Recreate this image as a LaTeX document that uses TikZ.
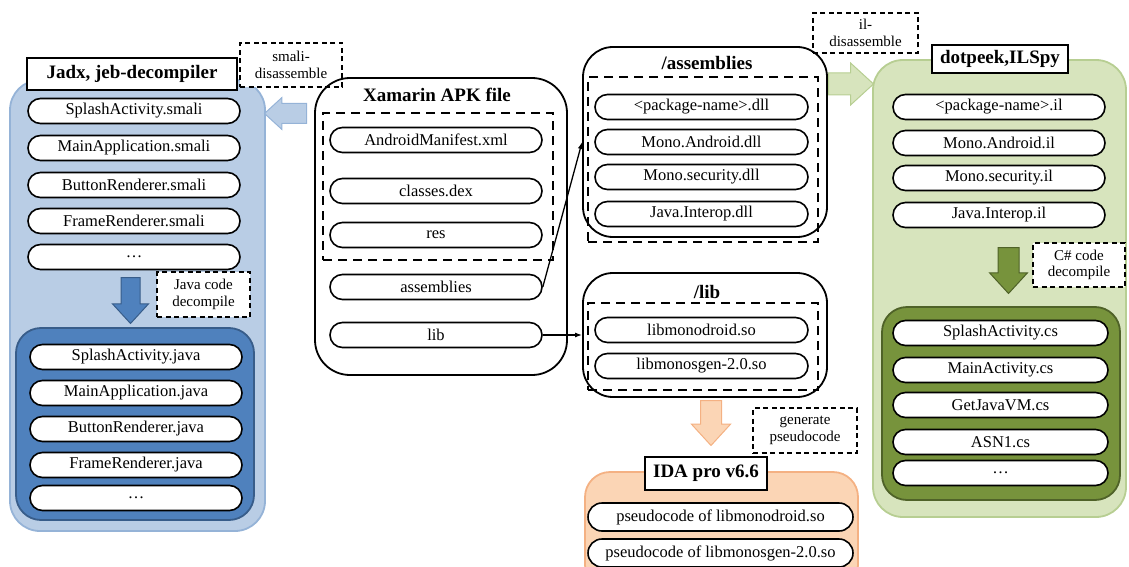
\documentclass[tikz,border=0pt]{standalone}
\usepackage{fontspec}
\setmainfont{Liberation Serif}
\usetikzlibrary{shapes.arrows,arrows.meta}

\definecolor{lblue}{HTML}{B9CDE5}
\definecolor{lbluedraw}{HTML}{95B3D7}
\definecolor{dblue}{HTML}{4F81BD}
\definecolor{dbluedraw}{HTML}{385D8A}
\definecolor{lgreen}{HTML}{D7E4BD}
\definecolor{lgreendraw}{HTML}{B7CE92}
\definecolor{dgreen}{HTML}{77933C}
\definecolor{dgreendraw}{HTML}{4F6228}
\definecolor{lorange}{HTML}{FBD5B5}
\definecolor{lorangedraw}{HTML}{F4B183}

\tikzset{
  pill/.style={draw, fill=white, line width=1.6pt, rounded corners=12.5pt,
    minimum width=212pt, minimum height=25pt, inner sep=0pt,
    font=\fontsize{16.5}{19}\selectfont},
  panel/.style={draw, line width=1.8pt, rounded corners=30pt, inner sep=0pt},
  dashbox/.style={draw, line width=2.4pt, dash pattern=on 9pt off 6pt, inner sep=0pt},
  head/.style={inner sep=1pt, font=\fontsize{19}{22}\bfseries\selectfont},
  toolbox/.style={draw, fill=white, line width=1.3pt, inner sep=0pt,
    font=\fontsize{19}{22}\bfseries\selectfont},
  note/.style={draw, fill=white, line width=1.2pt, dash pattern=on 5pt off 3.5pt,
    inner sep=0pt, align=center, font=\fontsize{15}{16.5}\selectfont},
  blockarrow/.style={single arrow, line width=1pt, single arrow tip angle=85, anchor=tail},
  link/.style={line width=1.3pt, -{Latex[length=7pt,width=5pt]}}
}

\begin{document}
\begin{tikzpicture}[x=1pt,y=1pt,yscale=-1,xscale=1]
\useasboundingbox (0,0) rectangle (1129,567);
\clip (0,0) rectangle (1129,567);

% background panels
\node[panel, fill=lblue, draw=lbluedraw, minimum width=255pt, minimum height=451pt] (jadxpanel) at (137.5,305.5) {};
\node[panel, fill=dblue, draw=dbluedraw, rounded corners=25pt, minimum width=238pt, minimum height=192pt] (javapanel) at (135,424) {};
\node[panel, fill=lgreen, draw=lgreendraw, minimum width=253pt, minimum height=457pt] (ilpanel) at (999.5,288.5) {};
\node[panel, fill=dgreen, draw=dgreendraw, rounded corners=25pt, minimum width=238pt, minimum height=193pt] (cspanel) at (1001,403.5) {};
\node[panel, fill=lorange, draw=lorangedraw, rounded corners=25pt, minimum width=273pt, minimum height=118pt] (idapanel) at (721.5,531) {};

% dashed notes
\node[note, minimum width=102pt, minimum height=44pt] (smalinote) at (291,65) {smali-\\disassemble};
\node[note, minimum width=93pt, minimum height=45pt] (javanote) at (203.5,294.5) {Java code\\decompile};
\node[note, minimum width=105pt, minimum height=40pt] (ilnote) at (865.5,33) {il-\\disassemble};
\node[note, minimum width=92pt, minimum height=44pt] (csnote) at (1079,265) {C\# code\\decompile};
\node[note, minimum width=104pt, minimum height=45pt] (pseudonote) at (805,430.5) {generate\\pseudocode};

% apk and extracted folders
\node[panel, rounded corners=35pt, minimum width=252pt, minimum height=297pt] (apk) at (441,226.5) {};
\node[dashbox, minimum width=230pt, minimum height=147pt] (apkdash) at (438,186.5) {};
\node[panel, minimum width=244pt, minimum height=190pt] (asmbox) at (705,142) {};
\node[dashbox, minimum width=230pt, minimum height=165pt] (asmdash) at (703,159.5) {};
\node[panel, minimum width=244pt, minimum height=124pt] (libbox) at (705,335) {};
\node[dashbox, minimum width=230pt, minimum height=87pt] (libdash) at (703,346.5) {};

\node[head] (apktitle) at (437,95) {Xamarin APK file};
\node[head] (asmtitle) at (707,63) {/assemblies};
\node[head] (libtitle) at (707,292) {/lib};

% block arrows
\node[blockarrow, fill=lblue, draw=lbluedraw, shape border rotate=180, inner sep=9.5pt, minimum height=42pt, single arrow head extend=6pt] (smaliarrow) at (307,113.5) {};
\node[blockarrow, fill=dblue, draw=dbluedraw, shape border rotate=270, inner sep=9pt, minimum height=46pt, single arrow head extend=8.5pt] (javaarrow) at (130.5,277) {};
\node[blockarrow, fill=lgreen, draw=lgreendraw, inner sep=10.5pt, minimum height=45pt, single arrow head extend=10pt] (ilarrow) at (828,84) {};
\node[blockarrow, fill=dgreen, draw=dgreendraw, shape border rotate=270, inner sep=10pt, minimum height=46pt, single arrow head extend=8.5pt] (csarrow) at (1008.5,247) {};
\node[blockarrow, fill=lorange, draw=lorangedraw, shape border rotate=270, inner sep=10pt, minimum height=45pt, single arrow head extend=9pt] (idaarrow) at (711,400) {};

% smali files
\node[pill] (smali1) at (134,111) {SplashActivity.smali};
\node[pill] (smali2) at (134,148) {MainApplication.smali};
\node[pill] (smali3) at (134,185) {ButtonRenderer.smali};
\node[pill] (smali4) at (134,221) {FrameRenderer.smali};
\node[pill] (smali5) at (134,257) {\ldots};

% java files
\node[pill] (java1) at (136,357) {SplashActivity.java};
\node[pill] (java2) at (136,393) {MainApplication.java};
\node[pill] (java3) at (136,429) {ButtonRenderer.java};
\node[pill] (java4) at (136,465) {FrameRenderer.java};
\node[pill] (java5) at (136,498) {\ldots};

% apk content
\node[pill] (manifest) at (436,140) {AndroidManifest.xml};
\node[pill] (dex) at (436,191) {classes.dex};
\node[pill] (res) at (436,235) {res};
\node[pill] (asm) at (436,287) {assemblies};
\node[pill] (lib) at (436,335) {lib};

% assemblies
\node[pill, minimum width=213pt] (dll1) at (701.5,107) {<package-name>.dll};
\node[pill, minimum width=213pt] (dll2) at (701.5,142) {Mono.Android.dll};
\node[pill, minimum width=213pt] (dll3) at (701.5,177) {Mono.security.dll};
\node[pill, minimum width=213pt] (dll4) at (701.5,214) {Java.Interop.dll};

% native libs
\node[pill, minimum width=213pt] (so1) at (701.5,330) {libmonodroid.so};
\node[pill, minimum width=213pt] (so2) at (701.5,366) {libmonosgen-2.0.so};

% il files
\node[pill] (il1) at (999,107) {<package-name>.il};
\node[pill] (il2) at (999,143) {Mono.Android.il};
\node[pill] (il3) at (999,178) {Mono.security.il};
\node[pill] (il4) at (999,215) {Java.Interop.il};

% c# files
\node[pill, minimum width=215pt] (cs1) at (1000.5,333) {SplashActivity.cs};
\node[pill, minimum width=215pt] (cs2) at (1000.5,370) {MainActivity.cs};
\node[pill, minimum width=215pt] (cs3) at (1000.5,405) {GetJavaVM.cs};
\node[pill, minimum width=215pt] (cs4) at (1000.5,442) {ASN1.cs};
\node[pill, minimum width=215pt] (cs5) at (1000.5,473) {\ldots};

% pseudocode
\node[pill, minimum width=265pt, minimum height=28pt, rounded corners=14pt] (pc1) at (720.5,517) {pseudocode of libmonodroid.so};
\node[pill, minimum width=265pt, minimum height=28pt, rounded corners=14pt] (pc2) at (720.5,553) {pseudocode of libmonosgen-2.0.so};

% tool names
\node[toolbox, minimum width=210pt, minimum height=32pt] (jadx) at (132,74) {Jadx, jeb-decompiler};
\node[toolbox, minimum width=136pt, minimum height=28pt] (dotpeek) at (1000,59) {dotpeek,ILSpy};
\node[toolbox, minimum width=122pt, minimum height=33pt] (ida) at (706,473.5) {IDA pro v6.6};

% links
\draw[link] (asm.east) -- (asmbox.west);
\draw[link] (lib.east) -- (libbox.west);

\end{tikzpicture}
\end{document}
